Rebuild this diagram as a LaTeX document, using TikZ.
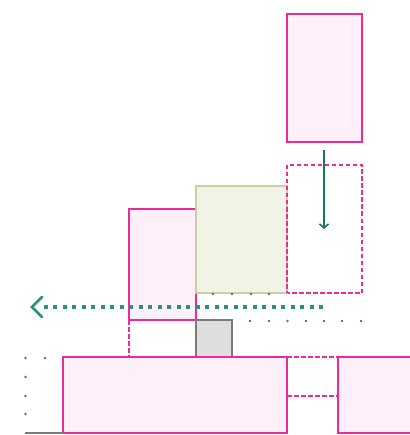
\documentclass[tikz,border=0pt]{standalone}
\usetikzlibrary{arrows.meta}
\definecolor{pinkstroke}{HTML}{EC2A9A}
\definecolor{pinkfill}{HTML}{FDF0F8}
\definecolor{olivestroke}{HTML}{C9CFA3}
\definecolor{olivefill}{HTML}{F1F3E7}
\definecolor{graystroke}{HTML}{7A7A7A}
\definecolor{grayfill}{HTML}{DEDEDE}
\definecolor{tealdot}{HTML}{2A9278}
\definecolor{tealline}{HTML}{13785F}
\definecolor{dotgray}{HTML}{6A6A6A}
\begin{document}
\begin{tikzpicture}[x=1pt,y=-1pt,
  pinkbox/.style={draw=pinkstroke,fill=pinkfill,line width=1.5pt},
  pinkdash/.style={draw=pinkstroke,line width=1.7pt,dash pattern=on 4.5pt off 2.5pt},
  olivebox/.style={draw=olivestroke,fill=olivefill,line width=1.5pt},
  graybox/.style={draw=graystroke,fill=grayfill,line width=1.5pt},
  sdot/.style={circle,fill=dotgray,inner sep=0pt,minimum size=2.8pt}]
\useasboundingbox (0,0) rectangle (409,435);
% boxes
\draw[pinkbox] (287,14) rectangle (362,142);
\draw[pinkdash] (287,165) rectangle (362,293);
\draw[pinkbox] (129,209) rectangle (196,320);
\draw[olivebox] (196,186) rectangle (287,293);
\draw[pinkdash] (287,186) -- (287,293);
\draw[graybox] (196,320) rectangle (232,357);
\draw[pinkbox] (63,357) rectangle (287,433);
\draw[pinkbox] (338,357) rectangle (412,433);
% dashed connectors
\draw[pinkdash] (129,320) -- (129,357);
\draw[pinkdash] (287,357) -- (338,357);
\draw[pinkdash] (287,396) -- (338,396);
% bottom gray line
\draw[graystroke,line width=2pt] (25,432.5) -- (63,432.5);
% dots
\foreach \x in {213,232,251,269} \node[sdot] at (\x,294) {};
\foreach \x in {250,269,287.5,306,324,342,361} \node[sdot] at (\x,321) {};
\node[sdot] at (25.5,358) {};
\node[sdot] at (45,358) {};
\foreach \y in {377,396,414} \node[sdot] at (25.5,\y) {};
% arrows
\coordinate (ds) at (323,307);
\coordinate (de) at (31,307);
\draw[tealdot,line width=4pt,dash pattern=on 4pt off 5.5pt] (ds) -- (40,307);
\draw[tealdot,line width=2.6pt,line cap=round] (42,297) -- (32,307) -- (42,317);
\coordinate (vs) at (324,150);
\coordinate (ve) at (324,229);
\draw[tealline,line width=1.6pt,-{Straight Barb[length=4pt,width=9pt]}] (vs) -- (ve);
\end{tikzpicture}
\end{document}
